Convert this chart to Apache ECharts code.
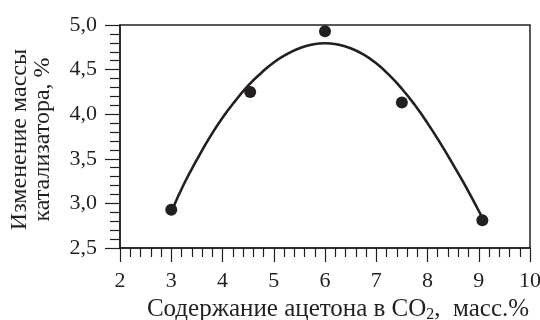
<!DOCTYPE html>
<html><head><meta charset="utf-8">
<script src="https://cdn.jsdelivr.net/npm/echarts@6/dist/echarts.min.js"></script>
<style>html,body{margin:0;padding:0;background:#fff}#c{width:540px;height:320px}</style>
</head><body><div id="c"></div>
<script>
// Measured points
const pointX = [3.0, 4.54, 6.0, 7.5, 9.07];
const pointY = [2.93, 4.25, 4.93, 4.13, 2.81];
// Fitted curve
const curveX = [3.02, 3.25, 3.5, 3.75, 4.0, 4.25, 4.5, 4.75, 5.0, 5.25, 5.5, 5.75, 6.0,
                6.25, 6.5, 6.75, 7.0, 7.25, 7.5, 7.75, 8.0, 8.25, 8.5, 8.75, 9.06];
const curveY = [2.93, 3.22, 3.49, 3.74, 3.96, 4.15, 4.32, 4.46, 4.58, 4.67, 4.74, 4.78, 4.795,
                4.78, 4.74, 4.67, 4.57, 4.44, 4.285, 4.105, 3.90, 3.675, 3.435, 3.185, 2.85];
const xTicks = [2, 3, 4, 5, 6, 7, 8, 9, 10];
const yTicks = [2.5, 3.0, 3.5, 4.0, 4.5, 5.0];

const ink = '#231f20';
const font = 'Liberation Serif';
const chart = echarts.init(document.getElementById('c'), null, {renderer: 'canvas'});
chart.setOption({
  animation: false,
  grid: {left: 120, right: 10, top: 25, bottom: 72, containLabel: false, outerBoundsMode: 'none',
    show: true, borderColor: ink, borderWidth: 1.5, backgroundColor: 'transparent'},
  xAxis: {
    type: 'value', min: xTicks[0], max: xTicks[xTicks.length - 1], interval: 1,
    axisLine: {show: true, onZero: false, lineStyle: {color: ink, width: 1.5}},
    axisTick: {show: true, length: 14, lineStyle: {color: ink, width: 1.2}},
    minorTick: {show: true, splitNumber: 5, length: 9, lineStyle: {color: ink, width: 1.2}},
    splitLine: {show: false},
    axisLabel: {color: ink, fontFamily: font, fontSize: 22, margin: 22},
    name: 'Содержание ацетона в CO{sub|2},  масс.%',
    nameLocation: 'middle', nameGap: 43,
    nameTextStyle: {color: ink, fontFamily: font, fontSize: 25, padding: [0, 0, 0, 26],
      rich: {sub: {fontFamily: font, fontSize: 16, color: ink, verticalAlign: 'bottom', padding: [10, 0, 0, 0]}}}
  },
  yAxis: {
    type: 'value', min: yTicks[0], max: yTicks[yTicks.length - 1], interval: 0.5,
    axisLine: {show: true, onZero: false, lineStyle: {color: ink, width: 1.5}},
    axisTick: {show: true, length: 15, lineStyle: {color: ink, width: 1.2}},
    minorTick: {show: true, splitNumber: 5, length: 10, lineStyle: {color: ink, width: 1.2}},
    splitLine: {show: false},
    axisLabel: {color: ink, fontFamily: font, fontSize: 22, margin: 23,
      formatter: v => v.toFixed(1).replace('.', ',')},
    name: 'Изменение массы\nкатализатора, %',
    nameLocation: 'middle', nameGap: 66, nameRotate: 90,
    nameTextStyle: {color: ink, fontFamily: font, fontSize: 24, lineHeight: 23, align: 'center', padding: [0, 6, 0, 0]}
  },
  series: [
    {type: 'line', data: curveX.map((x, i) => [x, curveY[i]]), smooth: true, showSymbol: false,
      lineStyle: {color: ink, width: 2.6}, z: 2},
    {type: 'scatter', data: pointX.map((x, i) => [x, pointY[i]]), symbol: 'circle', symbolSize: 12,
      itemStyle: {color: ink, opacity: 1}, z: 3}
  ]
});
</script></body></html>
